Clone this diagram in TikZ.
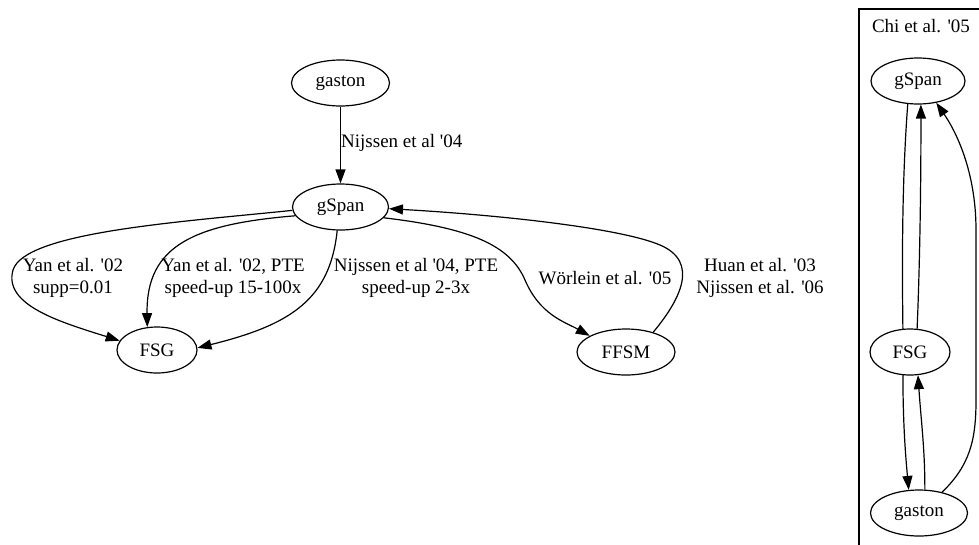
\documentclass[tikz,border=0pt]{standalone}
\usepackage{fontspec}
\setmainfont{Liberation Serif}
\newfontfamily\tms{Liberation Serif}
\usetikzlibrary{arrows.meta,shapes.geometric}
\newcommand\apos{\textquotesingle}

\begin{document}
\begin{tikzpicture}[x=1pt,y=-1pt,
  gnode/.style={draw, ellipse, line width=1.2pt, minimum height=46pt, inner sep=0pt,
                font=\tms\fontsize{19}{22}\selectfont},
  edge/.style={line width=1.2pt, -{Triangle[length=14pt,width=10pt]}},
  plainedge/.style={line width=1.2pt},
  lbl/.style={font=\tms\fontsize{19}{22}\selectfont, align=center, inner sep=0pt}]
\clip (0,0) rectangle (979,544);

% main graph
\node[gnode, minimum width=98pt] (g1) at (340.5,83) {gaston};
\node[gnode, minimum width=96pt] (s1) at (340.5,207) {gSpan};
\node[gnode, minimum width=80pt] (f1) at (157,350) {FSG};
\node[gnode, minimum width=98pt] (m1) at (626,352) {FFSM};

\draw[edge] (g1) -- (s1);
\node[lbl, anchor=west] (l1) at (341,143) {Nijssen et al \apos 04};

\draw[edge] (s1.184) .. controls (180,222) and (25,232) .. (13,270)
            .. controls (3,305) and (60,322) .. (f1.166);
\node[lbl] (l2) at (73,278) {Yan et al. \apos 02\\supp=0.01};

\draw[edge] (s1.191) .. controls (195,224) and (146,245) .. (f1.113);
\node[lbl] (l3) at (233,278) {Yan et al. \apos 02, PTE\\speed-up 15-100x};

\draw[edge] (s1.262) .. controls (330,300) and (290,325) .. (f1.3);
\node[lbl] (l4) at (416,278) {Nijssen et al \apos 04, PTE\\speed-up 2-3x};

\draw[edge] (s1.346) .. controls (470,228) and (510,245) .. (525,280)
            .. controls (540,315) and (565,322) .. (m1.156);
\node[lbl] (l5) at (605,278) {Wörlein et al. \apos 05};

\draw[edge] (m1.36) .. controls (680,300) and (700,262) .. (660,245)
            .. controls (620,228) and (500,215) .. (s1.358);
\node[lbl] (l6) at (760,278) {Huan et al. \apos 03\\Njissen et al. \apos 06};

% cluster
\draw[line width=1.2pt] (859,9) rectangle (1000,560);
\node[lbl] (ct) at (921,26) {Chi et al. \apos 05};

\node[gnode, minimum width=94pt] (s2) at (918,81) {gSpan};
\node[gnode, minimum width=80pt] (f2) at (910,352) {FSG};
\node[gnode, minimum width=97pt] (g2) at (919,513) {gaston};

\draw[plainedge] (s2.246) .. controls (902,180) and (902,260) .. (f2.107);
\draw[edge] (f2.73) .. controls (920,260) and (921,180) .. (s2.277);
\draw[edge] (f2.253) .. controls (903,420) and (905,450) .. (g2.114);
\draw[edge] (g2.76) .. controls (925,450) and (921,420) .. (f2.289);
\draw[edge] (g2.42) .. controls (970,465) and (976,440) .. (976,400)
            -- (976,230) .. controls (976,170) and (955,130) .. (s2.310);
\end{tikzpicture}
\end{document}
